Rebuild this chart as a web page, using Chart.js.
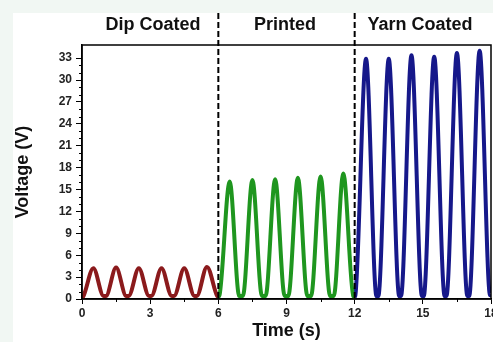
<!DOCTYPE html>
<html>
<head>
<meta charset="utf-8">
<script src="https://cdn.jsdelivr.net/npm/chart.js@4/dist/chart.umd.min.js"></script>
<style>
  html, body { margin: 0; padding: 0; overflow: hidden; background: #f1f7f3; }
  #card { position: absolute; left: 13px; top: 13px; width: 500px; height: 340px; background: #fff; }
  #wrap { position: absolute; left: 0; top: 0; width: 500px; height: 342px; }
</style>
</head>
<body>
<div id="card"></div>
<div id="wrap"><canvas id="chart" width="500" height="342"></canvas></div>
<script>
// values
const dipTime = [0, 0.05, 0.5, 0.95, 1.05, 1.5, 1.95, 2.05, 2.5, 2.95, 3.05, 3.5, 3.95, 4.05, 4.5, 4.95, 5.05, 5.5, 5.95, 6.0];
const dipVolt = [0.2, 0.3, 4.2, 0.4, 0.4, 4.3, 0.4, 0.4, 4.2, 0.4, 0.4, 4.2, 0.4, 0.4, 4.2, 0.4, 0.4, 4.4, 0.4, 0.3];

const printTime = [6.0, 6.05, 6.5, 6.92, 7.08, 7.5, 7.92, 8.08, 8.5, 8.92, 9.08, 9.5, 9.92, 10.08, 10.5, 10.92, 11.08, 11.5, 11.94, 12.0];
const printVolt = [0.3, 0.5, 16.1, 0.4, 0.4, 16.3, 0.4, 0.4, 16.4, 0.4, 0.4, 16.6, 0.4, 0.4, 16.8, 0.4, 0.4, 17.2, 0.4, 0.3];

const yarnTime = [12.0, 12.03, 12.5, 12.96, 13.04, 13.5, 13.96, 14.04, 14.5, 14.96, 15.04, 15.5, 15.96, 16.04, 16.5, 16.96, 17.04, 17.5, 17.96, 18.0];
const yarnVolt = [0.3, 0.5, 32.9, 0.4, 0.4, 32.9, 0.4, 0.4, 33.4, 0.4, 0.4, 33.2, 0.4, 0.4, 33.7, 0.4, 0.4, 34.0, 0.5, 0.6];

const sectionNames = ['Dip Coated', 'Printed', 'Yarn Coated'];
const sectionBounds = [0, 6, 12, 18];
const yTicks = [0, 3, 6, 9, 12, 15, 18, 21, 24, 27, 30, 33];
const xTicks = [0, 3, 6, 9, 12, 15, 18];

const FONT = '"Liberation Sans", Arial, sans-serif';

const toPoints = (xs, ys) => xs.map((x, i) => ({ x: x, y: ys[i] }));

const line = (data, color) => ({
  data: data,
  borderColor: color,
  borderWidth: 4,
  pointRadius: 0,
  fill: false,
  cubicInterpolationMode: 'monotone'
});

// frame, minor ticks, dashed dividers and section headers
const decorations = {
  id: 'decorations',
  afterDatasetsDraw(chart) {
    const { ctx, chartArea: a, scales: { x, y } } = chart;
    ctx.save();
    ctx.strokeStyle = '#000';
    ctx.lineWidth = 1.5;
    ctx.strokeRect(a.left, a.top, a.right - a.left, a.bottom - a.top);

    // minor ticks
    ctx.lineWidth = 1;
    for (let v = 1; v < 34; v++) {
      if (v % 3 === 0) continue;
      const py = Math.round(y.getPixelForValue(v)) + 0.5;
      ctx.beginPath();
      ctx.moveTo(a.left - 3, py);
      ctx.lineTo(a.left, py);
      ctx.stroke();
    }
    for (let v = 1.5; v < 18; v += 3) {
      const px = Math.round(x.getPixelForValue(v)) + 0.5;
      ctx.beginPath();
      ctx.moveTo(px, a.bottom);
      ctx.lineTo(px, a.bottom + 3);
      ctx.stroke();
    }

    // dashed section dividers
    ctx.lineWidth = 2;
    ctx.setLineDash([6, 3]);
    [sectionBounds[1], sectionBounds[2]].forEach(v => {
      const px = x.getPixelForValue(v);
      ctx.beginPath();
      ctx.moveTo(px, 13);
      ctx.lineTo(px, a.bottom);
      ctx.stroke();
    });
    ctx.setLineDash([]);

    // headers
    ctx.fillStyle = '#111';
    ctx.font = 'bold 18px ' + FONT;
    ctx.textAlign = 'center';
    ctx.textBaseline = 'middle';
    const centers = [153, 285, 420];
    sectionNames.forEach((name, i) => ctx.fillText(name, centers[i], 25));
    ctx.restore();
  }
};

new Chart(document.getElementById('chart'), {
  type: 'line',
  data: {
    datasets: [
      line(toPoints(dipTime, dipVolt), '#8b1a1c'),
      line(toPoints(printTime, printVolt), '#1f961f'),
      line(toPoints(yarnTime, yarnVolt), '#16188a')
    ]
  },
  options: {
    responsive: false,
    animation: false,
    layout: { padding: { left: 12, right: 9, top: 45, bottom: 0 } },
    plugins: { legend: { display: false }, tooltip: { enabled: false } },
    scales: {
      x: {
        type: 'linear',
        min: 0,
        max: 18,
        afterBuildTicks: s => { s.ticks = xTicks.map(v => ({ value: v })); },
        afterFit: s => { s.height = 43; s.paddingLeft = 0; s.paddingRight = 0; },
        border: { color: '#000', width: 1.5 },
        grid: { drawOnChartArea: false, tickLength: 5, tickColor: '#000' },
        ticks: {
          color: '#222',
          padding: 2,
          maxRotation: 0,
          autoSkip: false,
          font: { family: FONT, size: 12, weight: 'bold' }
        },
        title: {
          display: true,
          text: 'Time (s)',
          color: '#111',
          padding: { top: 0, bottom: 0 },
          font: { family: FONT, size: 18, weight: 'bold' }
        }
      },
      y: {
        min: 0,
        max: 34.8,
        afterBuildTicks: s => { s.ticks = yTicks.map(v => ({ value: v })); },
        afterFit: s => { s.width = 70; s.paddingTop = 0; s.paddingBottom = 0; },
        border: { color: '#000', width: 1.5 },
        grid: { drawOnChartArea: false, tickLength: 6, tickColor: '#000' },
        ticks: {
          color: '#222',
          padding: 4,
          font: { family: FONT, size: 12, weight: 'bold' }
        },
        title: {
          display: true,
          text: 'Voltage (V)',
          color: '#111',
          padding: { top: 0, bottom: 0 },
          font: { family: FONT, size: 18, weight: 'bold' }
        }
      }
    }
  },
  plugins: [decorations]
});
</script>
</body>
</html>
